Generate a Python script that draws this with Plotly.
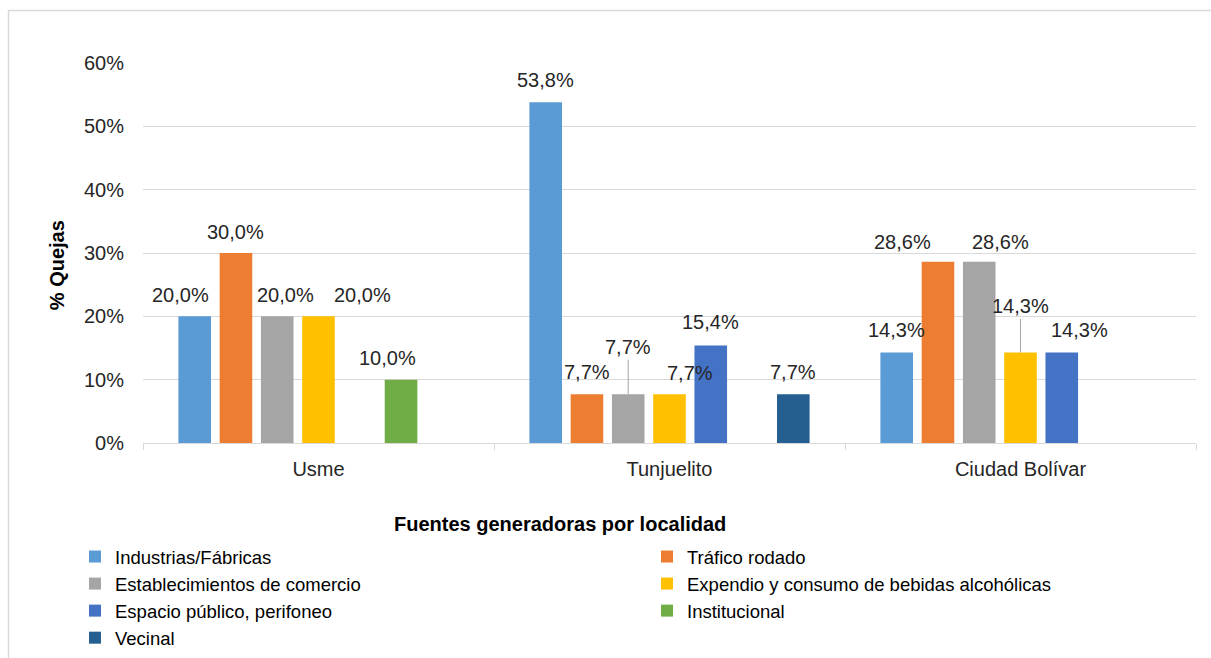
import plotly.graph_objects as go

# ---------------- data ----------------
localidades = ["Usme", "Tunjuelito", "Ciudad Bolívar"]
series_names = [
    "Industrias/Fábricas",
    "Tráfico rodado",
    "Establecimientos de comercio",
    "Expendio y consumo de bebidas alcohólicas",
    "Espacio público, perifoneo",
    "Institucional",
    "Vecinal",
]
industrias = [20.0, 53.8, 14.3]
trafico = [30.0, 7.7, 28.6]
establecimientos = [20.0, 7.7, 28.6]
expendio = [20.0, 7.7, 14.3]
espacio = [None, 15.4, 14.3]
institucional = [10.0, None, None]
vecinal = [None, 7.7, None]
values = [industrias, trafico, establecimientos, expendio, espacio, institucional, vecinal]

y_ticks = [0, 10, 20, 30, 40, 50, 60]
y_tick_labels = ["0%", "10%", "20%", "30%", "40%", "50%", "60%"]

# ---------------- style ----------------
colors = ["#5B9BD5", "#ED7D31", "#A5A5A5", "#FFC000", "#4472C4", "#70AD47", "#255E91"]
legend_of = ["legend", "legend2", "legend", "legend2", "legend", "legend2", "legend"]
# label offsets in pixels (horizontal shift, height above bar top)
label_dx = [[-14, 0, 0], [0, 0, -35], [8, 0, 21], [44, 20, 0], [0, 0, 18], [-14, 0, 0], [0, 0, 0]]
label_up = [[21, 22, 22], [21, 22, 20], [21, 47, 20], [21, 21, 46], [0, 23, 22], [22, 0, 0], [0, 22, 0]]
leader = {(2, 1), (3, 2)}

W, H = 1211, 658
ML, MR, MT, MB = 143, 15, 63, 215
PLOT_W = W - ML - MR
PLOT_H = H - MT - MB
BARGAP = 0.177
BARGROUPGAP = 0.21
FONT = "Liberation Sans, Arial, sans-serif"
TXT = "#262626"
GRID = "#D9D9D9"

n_series = len(series_names)
cat_w = PLOT_W / len(localidades)
slot = cat_w * (1 - BARGAP) / n_series


def px_x(px):
    return (px - ML) / PLOT_W


def px_y(py):
    return (H - MB - py) / PLOT_H


fig = go.Figure()
for i, name in enumerate(series_names):
    fig.add_trace(go.Bar(
        name=name,
        x=localidades,
        y=values[i],
        marker=dict(color=colors[i], line=dict(width=0)),
        legend=legend_of[i],
    ))

annotations = []
for i in range(n_series):
    for j, cat in enumerate(localidades):
        v = values[i][j]
        if v is None:
            continue
        label = f"{v:.1f}".replace(".", ",") + "%"
        shift = (i - (n_series - 1) / 2) * slot
        if (i, j) in leader:
            annotations.append(dict(
                x=cat, y=v, xref="x", yref="y", text=label,
                xshift=shift + label_dx[i][j],
                showarrow=True, arrowhead=0, arrowwidth=1, arrowcolor="#A6A6A6",
                ax=0, ay=-label_up[i][j], standoff=0,
                font=dict(family=FONT, size=20, color=TXT),
            ))
        else:
            annotations.append(dict(
                x=cat, y=v, xref="x", yref="y", text=label,
                xshift=shift + label_dx[i][j], yshift=label_up[i][j],
                showarrow=False, xanchor="center", yanchor="middle",
                font=dict(family=FONT, size=20, color=TXT),
            ))

# axis titles
annotations.append(dict(
    x=px_x(56.5), y=px_y(265.7), xref="paper", yref="paper",
    text="<b>% Quejas</b>", textangle=-90, showarrow=False,
    xanchor="center", yanchor="middle",
    font=dict(family=FONT, size=20, color="#000000"),
))
annotations.append(dict(
    x=px_x(560), y=px_y(524), xref="paper", yref="paper",
    text="<b>Fuentes generadoras por localidad</b>", showarrow=False,
    xanchor="center", yanchor="middle",
    font=dict(family=FONT, size=20, color="#000000"),
))

legend_common = dict(
    orientation="v", yanchor="top", xanchor="left",
    font=dict(family=FONT, size=18.5, color="#000000"),
    bgcolor="rgba(0,0,0,0)", itemwidth=30, traceorder="normal",
)

fig.update_layout(
    width=W, height=H,
    margin=dict(l=ML, r=MR, t=MT, b=MB, autoexpand=False),
    paper_bgcolor="white", plot_bgcolor="white",
    barmode="group", bargap=BARGAP, bargroupgap=BARGROUPGAP,
    showlegend=True,
    legend=dict(x=px_x(75), y=px_y(538), **legend_common),
    legend2=dict(x=px_x(647), y=px_y(538), **legend_common),
    annotations=annotations,
    shapes=[dict(
        type="rect", xref="paper", yref="paper",
        x0=px_x(8.5), x1=px_x(1220), y0=px_y(670), y1=px_y(10.5),
        line=dict(color=GRID, width=1.5), fillcolor="rgba(0,0,0,0)", layer="below",
    )],
    xaxis=dict(
        type="category", showline=True, linecolor=GRID, linewidth=1,
        ticks="outside", tickson="boundaries", ticklen=6, tickcolor=GRID, tickwidth=1,
        showgrid=False, zeroline=False,
        tickfont=dict(family=FONT, size=20, color=TXT),
        ticklabelstandoff=8,
    ),
    yaxis=dict(
        range=[0, 60], tickmode="array", tickvals=y_ticks, ticktext=y_tick_labels,
        showgrid=True, gridcolor=GRID, gridwidth=1.2,
        showline=False, zeroline=False, ticks="",
        tickfont=dict(family=FONT, size=20, color=TXT),
        ticklabelstandoff=18,
    ),
)

fig.write_html(
    "out.html",
    config={"displayModeBar": False},
    post_script="document.body.style.margin='0';document.body.style.padding='0';",
)
